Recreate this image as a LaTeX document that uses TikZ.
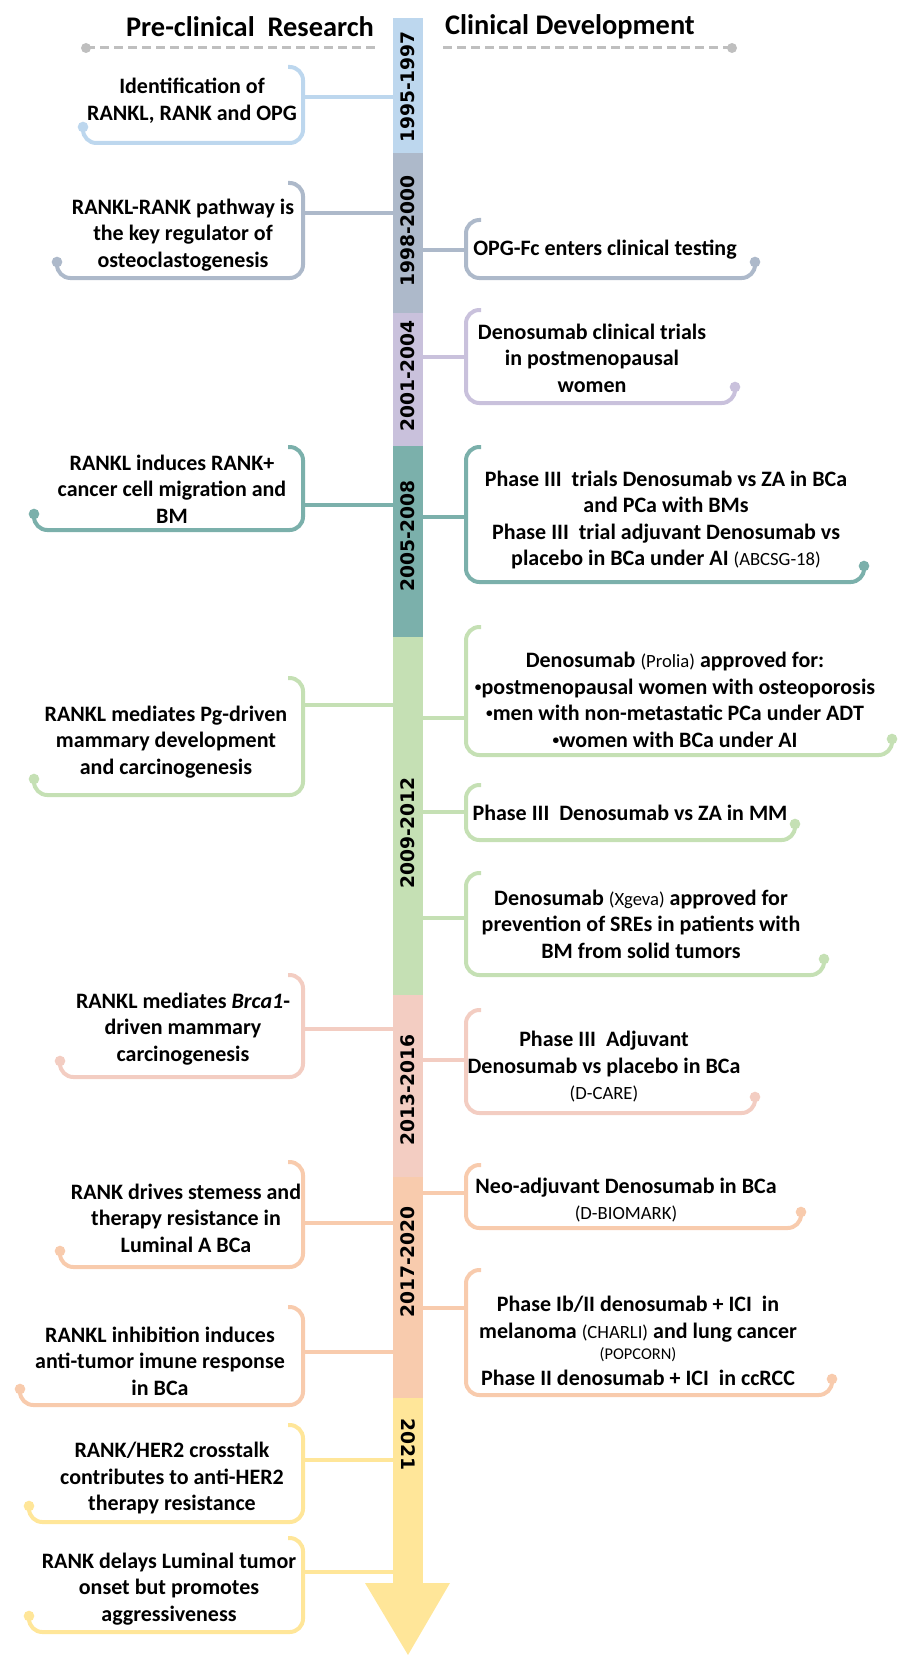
\documentclass[tikz,border=0pt]{standalone}
\usepackage{fontspec}
\setmainfont{Carlito}
\newfontfamily\yearfont{DejaVu Sans}
\usetikzlibrary{fit}
\definecolor{cA}{HTML}{BDD7EE}
\definecolor{cB}{HTML}{ADB9CA}
\definecolor{cC}{HTML}{C9C1DC}
\definecolor{cD}{HTML}{7BB0AB}
\definecolor{cE}{HTML}{C5E0B4}
\definecolor{cF}{HTML}{F3CDC2}
\definecolor{cG}{HTML}{F8CBAD}
\definecolor{cH}{HTML}{FFE699}
\definecolor{cGrey}{HTML}{BFBFBF}
\newcommand\src[1]{{\mdseries\fontsize{14}{16}\selectfont#1}}
\newcommand\srcs[1]{{\mdseries\fontsize{12.3}{14}\selectfont#1}}
\newcommand\bul{\raisebox{2.5pt}{\fontsize{10}{10}\selectfont•}}

\begin{document}
\begin{tikzpicture}[x=0.75pt, y=-0.75pt,
  seg/.style={inner sep=0pt, outer sep=0pt},
  year/.style={font=\yearfont\bfseries\fontsize{14}{14}\selectfont, inner sep=0pt},
  txt/.style={align=center, inner sep=0pt, font=\bfseries\fontsize{16.5}{19.9}\selectfont},
  brak/.style={line width=3pt, rounded corners=10pt},
  link/.style={line width=3pt},
  head/.style={font=\bfseries\fontsize{21.3}{24}\selectfont, inner sep=0pt},
  guide/.style={draw=cGrey, line width=2.25pt, dash pattern=on 7pt off 3.5pt}]
\useasboundingbox (0,0) rectangle (897,1655);

% headers
\node[head] (pre) at (250,27) {Pre-clinical\ \ Research};
\node[head] (clin) at (570,27) {Clinical Development};
\coordinate (gl) at (86,48);
\coordinate (gr) at (732,48);
\draw[guide] (gl) -- (375,48);
\draw[guide] (443,48) -- (gr);
\fill[cGrey] (gl) circle (3.75pt) (gr) circle (3.75pt);

% timeline
\foreach \n/\c/\a/\b in {sA/cA/18/153, sB/cB/153/313, sC/cC/313/446, sD/cD/446/637,
    sE/cE/637/995, sF/cF/995/1177, sG/cG/1177/1398, sH/cH/1398/1583}
  \node[seg, fill=\c, fit={(393,\a) (423,\b)}] (\n) {};
\fill[cH] (sH.south west) ++(-28,0) -- ++(85,0) -- (408,1655) -- cycle;
\foreach \n/\r/\y/\t in {yA/90/87/1995-1997, yB/90/231/1998-2000, yC/90/376/2001-2004,
    yD/90/536/2005-2008, yE/90/833/2009-2012, yF/90/1090/2013-2016,
    yG/90/1262/2017-2020, yH/-90/1444/2021}
  \node[year, rotate=\r] (\n) at (408,\y) {\t};

% pre-clinical brackets
\foreach \c/\t/\b/\d/\l/\s [count=\i] in {cA/67/143/83/97/sA, cB/183/278/57/213/sB,
    cD/447/530/34/505/sD, cE/678/795/34/705/sE, cF/975/1077/60/1029/sF,
    cG/1162/1267/60/1223/sG, cG/1307/1405/20/1352/sG, cH/1425/1522/29/1460/sH,
    cH/1538/1632/29/1572/sH}{
  \draw[brak, draw=\c] (288,\t) -| (303,\b) -| (\d,\b-16);
  \fill[fill=\c] (\d,\b-16) circle (4pt);
  \coordinate (pl\i) at (303,\l);
  \draw[link, draw=\c] (pl\i) -- (pl\i -| \s.west);
}

% clinical brackets
\foreach \c/\t/\b/\d/\l/\s [count=\i] in {cB/220/278/755/250/sB, cC/310/403/735/357/sC,
    cD/447/582/864/517/sD, cE/627/755/892/718/sE, cE/785/840/795/812/sE,
    cE/873/975/824/918/sE, cF/1010/1113/755/1060/sF, cG/1165/1228/801/1193/sG,
    cG/1270/1395/832/1308/sG}{
  \draw[brak, draw=\c] (481,\t) -| (466,\b) -| (\d,\b-16);
  \fill[fill=\c] (\d,\b-16) circle (4pt);
  \coordinate (pr\i) at (466,\l);
  \draw[link, draw=\c] (pr\i) -- (pr\i -| \s.east);
}

% pre-clinical texts
\node[txt] (l1) at (192,101) {Identification of\\RANKL, RANK and OPG};
\node[txt] (l2) at (183,235) {RANKL-RANK pathway is\\the key regulator of\\osteoclastogenesis};
\node[txt] (l3) at (172,489) {RANKL induces RANK+\\cancer cell migration and\\BM};
\node[txt] (l4) at (166,742) {RANKL mediates Pg-driven\\mammary development\\and carcinogenesis};
\node[txt] (l5) at (183,1029) {RANKL mediates \textit{Brca1}-\\driven mammary\\carcinogenesis};
\node[txt] (l6) at (186,1218) {RANK drives stemess and\\therapy resistance in\\Luminal A BCa};
\node[txt] (l7) at (160,1361) {RANKL inhibition induces\\anti-tumor imune response\\in BCa};
\node[txt] (l8) at (172,1478) {RANK/HER2 crosstalk\\contributes to anti-HER2\\therapy resistance};
\node[txt] (l9) at (169,1589) {RANK delays Luminal tumor\\onset but promotes\\aggressiveness};

% clinical texts
\node[txt] (r1) at (605,250) {OPG-Fc enters clinical testing};
\node[txt] (r2) at (592,358) {Denosumab clinical trials\\in postmenopausal\\women};
\node[txt] (r3) at (666,520) {Phase III\ \ trials Denosumab vs ZA in BCa\\and PCa with BMs\\Phase III\ \ trial adjuvant Denosumab vs\\placebo in BCa under AI \src{(ABCSG-18)}};
\node[txt] (r4) at (675,700) {Denosumab \src{(Prolia)} approved for:\\\bul postmenopausal women with osteoporosis\\\bul men with non-metastatic PCa under ADT\\\bul women with BCa under AI};
\node[txt] (r5) at (630,813) {Phase III\ \ Denosumab vs ZA in MM};
\node[txt] (r6) at (641,924) {Denosumab \src{(Xgeva)} approved for\\prevention of SREs in patients with\\BM from solid tumors};
\node[txt] (r7) at (604,1067) {Phase III\ \ Adjuvant\\Denosumab vs placebo in BCa\\\src{(D-CARE)}};
\node[txt] (r8) at (626,1200) {Neo-adjuvant Denosumab in BCa\\\src{(D-BIOMARK)}};
\node[txt] (r9) at (638,1341) {Phase Ib/II denosumab + ICI\ \ in\\melanoma \src{(CHARLI)} and lung cancer\\[-4pt]\srcs{(POPCORN)}\\Phase II denosumab + ICI\ \ in ccRCC};
\end{tikzpicture}
\end{document}
